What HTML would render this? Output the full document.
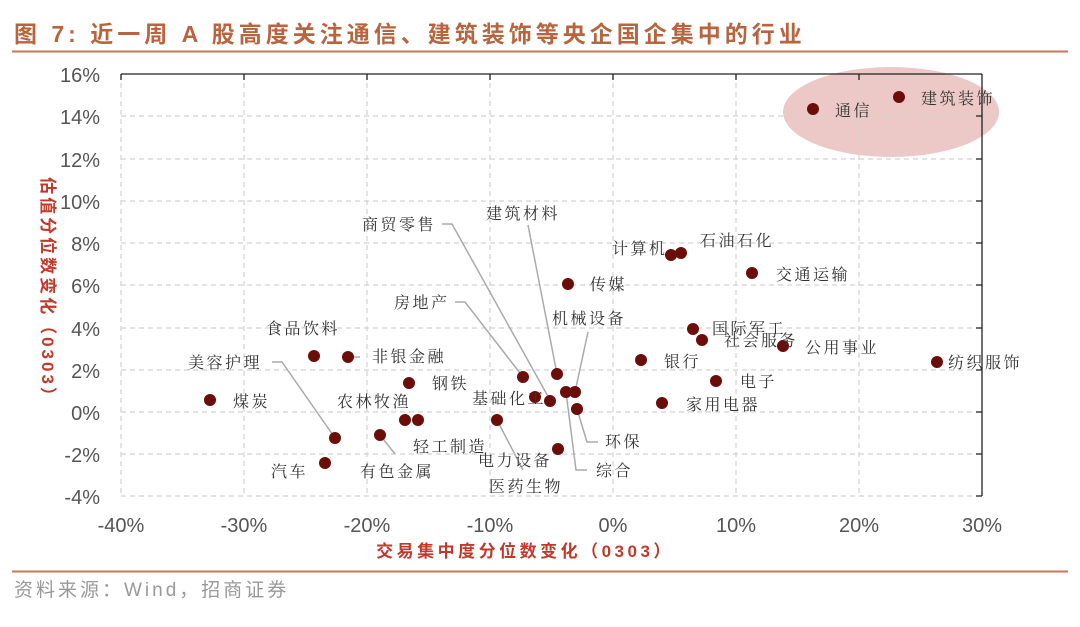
<!DOCTYPE html>
<html><head><meta charset="utf-8"><style>
body{margin:0;background:#fff;width:1080px;height:627px;overflow:hidden}
svg{display:block}
.t{font-family:"Liberation Sans","Noto Sans CJK SC",sans-serif}
.l{font-family:"Liberation Serif","Noto Serif CJK SC",serif;font-size:16px;fill:#333;letter-spacing:2.5px}
.tk{font-family:"Liberation Sans",sans-serif;font-size:20px;fill:#555}
</style></head><body>
<svg width="1080" height="627" viewBox="0 0 1080 627">
<text x="14" y="42" class="t" font-size="23" font-weight="bold" fill="#b8643f" letter-spacing="4">图 7:  近一周 A 股高度关注通信、建筑装饰等央企国企集中的行业</text>
<line x1="12" y1="51.5" x2="1068" y2="51.5" stroke="#c8785a" stroke-width="2"/>
<ellipse cx="891" cy="112" rx="108" ry="45" fill="#ecc9c6"/>
<g stroke="#d2d2d2" stroke-dasharray="5,4" stroke-width="1.2" fill="none">
<line x1="121" y1="116" x2="982" y2="116"/><line x1="121" y1="159" x2="982" y2="159"/><line x1="121" y1="201" x2="982" y2="201"/><line x1="121" y1="243" x2="982" y2="243"/><line x1="121" y1="285" x2="982" y2="285"/><line x1="121" y1="328" x2="982" y2="328"/><line x1="121" y1="370" x2="982" y2="370"/><line x1="121" y1="412" x2="982" y2="412"/><line x1="121" y1="454" x2="982" y2="454"/><line x1="121" y1="496" x2="982" y2="496"/>
<line x1="121" y1="74" x2="121" y2="496"/><line x1="244" y1="74" x2="244" y2="496"/><line x1="367" y1="74" x2="367" y2="496"/><line x1="490" y1="74" x2="490" y2="496"/><line x1="613" y1="74" x2="613" y2="496"/><line x1="736" y1="74" x2="736" y2="496"/><line x1="859" y1="74" x2="859" y2="496"/>
</g>
<g stroke="#222" stroke-width="1.3" fill="none">
<line x1="121" y1="74" x2="982" y2="74"/><line x1="982" y1="74" x2="982" y2="496"/>
<path d="M121 74v6M244 74v6M367 74v6M490 74v6M613 74v6M736 74v6M859 74v6M982 116h-6M982 159h-6M982 201h-6M982 243h-6M982 285h-6M982 328h-6M982 370h-6M982 412h-6M982 454h-6M982 496h-6"/>
</g>
<g class="tk" text-anchor="end">
<text x="100" y="82">16%</text><text x="100" y="124">14%</text><text x="100" y="167">12%</text><text x="100" y="209">10%</text><text x="100" y="251">8%</text><text x="100" y="293">6%</text><text x="100" y="336">4%</text><text x="100" y="378">2%</text><text x="100" y="420">0%</text><text x="100" y="462">-2%</text><text x="100" y="504">-4%</text>
</g>
<g class="tk" text-anchor="middle">
<text x="121" y="532">-40%</text><text x="244" y="532">-30%</text><text x="367" y="532">-20%</text><text x="490" y="532">-10%</text><text x="613" y="532">0%</text><text x="736" y="532">10%</text><text x="859" y="532">20%</text><text x="982" y="532">30%</text>
</g>
<text x="525" y="557" class="t" font-size="17" font-weight="bold" fill="#c0392b" text-anchor="middle" letter-spacing="3.5">交易集中度分位数变化（0303）</text>
<text transform="translate(42,292) rotate(90)" class="t" font-size="17" font-weight="bold" fill="#c0392b" text-anchor="middle" letter-spacing="3">估值分位数变化（0303）</text>
<g stroke="#aaa" stroke-width="1.5" fill="none">
<path d="M442 224h10L550 400"/><path d="M528 225L557 374"/><path d="M455 302h10L523 377"/><path d="M588 332L575 392"/><path d="M577 409L587 442h11"/><path d="M566 392L576 470h11"/><path d="M497 420L523 470"/><path d="M272 362h10L335 438"/><path d="M348 357h12"/><path d="M380 435L395 454"/>
</g>
<g fill="#6b0e0a">
<circle cx="813" cy="109" r="6"/><circle cx="899" cy="97" r="6"/><circle cx="671" cy="255" r="6"/><circle cx="681" cy="253" r="6"/><circle cx="752" cy="273" r="6"/><circle cx="568" cy="284" r="6"/><circle cx="693" cy="329" r="6"/><circle cx="702" cy="340" r="6"/><circle cx="783" cy="346" r="6"/><circle cx="937" cy="362" r="6"/><circle cx="641" cy="360" r="6"/><circle cx="716" cy="381" r="6"/><circle cx="662" cy="403" r="6"/><circle cx="314" cy="356" r="6"/><circle cx="348" cy="357" r="6"/><circle cx="210" cy="400" r="6"/><circle cx="409" cy="383" r="6"/><circle cx="523" cy="377" r="6"/><circle cx="557" cy="374" r="6"/><circle cx="535" cy="397" r="6"/><circle cx="550" cy="401" r="6"/><circle cx="566" cy="392" r="6"/><circle cx="575" cy="392" r="6"/><circle cx="577" cy="409" r="6"/><circle cx="558" cy="449" r="6"/><circle cx="405" cy="420" r="6"/><circle cx="418" cy="420" r="6"/><circle cx="380" cy="435" r="6"/><circle cx="335" cy="438" r="6"/><circle cx="325" cy="463" r="6"/><circle cx="497" cy="420" r="6"/>
</g>
<g class="l">
<text x="835" y="116">通信</text><text x="921" y="104">建筑装饰</text>
<text x="612" y="254">计算机</text><text x="700" y="246">石油石化</text><text x="776" y="280">交通运输</text><text x="590" y="290">传媒</text>
<text x="712" y="334">国际军工</text><text x="724" y="346">社会服务</text><text x="805" y="353">公用事业</text><text x="948" y="368">纺织服饰</text>
<text x="664" y="367">银行</text><text x="740" y="387">电子</text><text x="686" y="410">家用电器</text>
<text x="266" y="334">食品饮料</text><text x="372" y="362">非银金融</text><text x="188" y="368">美容护理</text>
<text x="233" y="407">煤炭</text><text x="432" y="389">钢铁</text><text x="337" y="407">农林牧渔</text>
<text x="362" y="230">商贸零售</text><text x="486" y="219">建筑材料</text><text x="394" y="308">房地产</text>
<text x="552" y="324">机械设备</text><text x="472" y="404">基础化工</text>
<text x="605" y="447">环保</text><text x="596" y="476">综合</text>
<text x="413" y="452">轻工制造</text><text x="478" y="466">电力设备</text><text x="489" y="492">医药生物</text>
<text x="360" y="477">有色金属</text><text x="271" y="477">汽车</text>
</g>
<line x1="12" y1="571.5" x2="1068" y2="571.5" stroke="#c8785a" stroke-width="2"/>
<text x="14" y="596" class="t" font-size="19" fill="#999" letter-spacing="3">资料来源：Wind，招商证券</text>
</svg>
</body></html>
